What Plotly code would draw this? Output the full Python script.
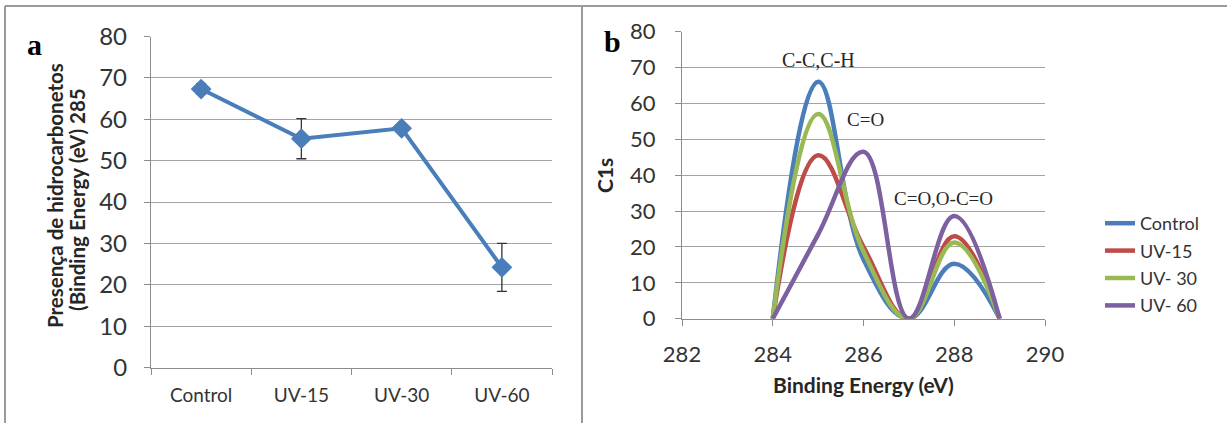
import plotly.graph_objects as go

W, H = 1227, 423

# ---- data: panel a ----
categories = ["Control", "UV-15", "UV-30", "UV-60"]
hydrocarbons = [67.3, 55.3, 57.8, 24.2]
hydro_err = [1.3, 4.85, 1.0, 5.8]

# ---- data: panel b ----
energy = [284, 285, 286, 287, 288, 289]
c1s_control = [0, 66, 16.5, 0, 15.3, 0]
c1s_uv15 = [0, 45.5, 20, 0, 23, 0]
c1s_uv30 = [0, 57, 18.7, 0, 21.2, 0]
c1s_uv60 = [0, 23.5, 46.5, 0, 28.6, 0]
series_names = ["Control", "UV-15", "UV- 30", "UV- 60"]
series_colors = ["#4a7ebb", "#be4b48", "#98b954", "#7d60a0"]
y_ticks = [0, 10, 20, 30, 40, 50, 60, 70, 80]
x_ticks_b = [282, 284, 286, 288, 290]

SANS = "Lato, 'Open Sans', sans-serif"
SERIF = "'Liberation Serif', 'DejaVu Serif', serif"
GRID = "#a3a3a3"
AXIS = "#8c8c8c"

def px(x):
    return x / W

def py(y):
    return 1 - y / H

fig = go.Figure()

fig.add_trace(go.Scatter(
    x=categories, y=hydrocarbons, mode="lines+markers",
    line=dict(color="#4a7ebb", width=4),
    marker=dict(symbol="diamond", size=16, color="#4a7ebb"),
    error_y=dict(type="data", array=hydro_err, visible=True,
                 color="#333333", thickness=1.3, width=5),
    xaxis="x", yaxis="y", showlegend=False,
))

for name, vals, col in zip(series_names,
                           [c1s_control, c1s_uv15, c1s_uv30, c1s_uv60],
                           series_colors):
    fig.add_trace(go.Scatter(
        x=energy, y=vals, mode="lines", name=name,
        line=dict(color=col, width=4.5, shape="spline", smoothing=1.15),
        xaxis="x2", yaxis="y2", legendgroup=name,
    ))

common_axis = dict(showline=True, linecolor=AXIS, linewidth=1.3,
                   ticks="outside", tickcolor=AXIS, ticklen=6, tickwidth=1.3,
                   zeroline=False, automargin=False)

fig.update_layout(
    width=W, height=H,
    margin=dict(l=0, r=0, t=0, b=0),
    paper_bgcolor="white", plot_bgcolor="white",
    font=dict(family=SANS, color="#262626"),
    xaxis=dict(domain=[px(151), px(552)], anchor="y", type="category",
               range=[-0.5, 3.5], tickson="boundaries", showgrid=False,
               tickfont=dict(size=19, family=SANS, color="#333333"),
               ticklabelstandoff=11, **common_axis),
    yaxis=dict(domain=[py(367.5), py(36.5)], anchor="x", range=[0, 80],
               tickvals=y_ticks, showgrid=True, gridcolor=GRID, gridwidth=1.3,
               tickfont=dict(size=24, family=SANS, color="#333333"),
               ticklabelstandoff=12, **common_axis),
    xaxis2=dict(domain=[px(682), px(1045)], anchor="y2", range=[282, 290],
                tickvals=x_ticks_b, showgrid=False,
                tickfont=dict(size=22, family=SANS, color="#333333"),
                ticklabelstandoff=10, **common_axis),
    yaxis2=dict(domain=[py(318.7), py(31.5)], anchor="x2", range=[0, 80],
                tickvals=y_ticks, showgrid=True, gridcolor=GRID, gridwidth=1.3,
                tickfont=dict(size=22, family=SANS, color="#333333"),
                ticklabelstandoff=15, **common_axis),
    legend=dict(x=px(1100), y=py(205), xanchor="left", yanchor="top",
                font=dict(size=18, family=SANS, color="#333333"),
                tracegroupgap=1, bgcolor="rgba(0,0,0,0)"),
    showlegend=True,
)

annotations = [
    dict(text="<b>a</b>", x=px(34), y=py(44), font=dict(size=30, family=SERIF, color="black")),
    dict(text="<b>b</b>", x=px(612), y=py(41), font=dict(size=30, family=SERIF, color="black")),
    dict(text="<b>Presença de hidrocarbonetos</b>",
         x=px(55), y=py(196), textangle=-90,
         font=dict(size=20.5, family=SANS, color="#262626")),
    dict(text="<b>(Binding Energy (eV) 285</b>",
         x=px(77), y=py(200), textangle=-90,
         font=dict(size=20.5, family=SANS, color="#262626")),
    dict(text="<b>C1s</b>", x=px(605), y=py(176), textangle=-90,
         font=dict(size=21, family=SANS, color="#262626")),
    dict(text="<b>Binding Energy (eV)</b>", x=px(863), y=py(384),
         font=dict(size=21, family=SANS, color="#262626")),
    dict(text="C-C,C-H", x=px(818), y=py(60), font=dict(size=20, family=SERIF, color="#262626")),
    dict(text="C=O", x=px(865), y=py(120), font=dict(size=19, family=SERIF, color="#262626")),
    dict(text="C=O,O-C=O", x=px(943), y=py(198), font=dict(size=19, family=SERIF, color="#262626")),
]
for a in annotations:
    a.update(xref="paper", yref="paper", showarrow=False, xanchor="center", yanchor="middle")
fig.update_layout(annotations=annotations)

border = dict(color="#9a9a9a", width=2)
fig.update_layout(shapes=[
    dict(type="line", xref="paper", yref="paper", x0=px(5), x1=1, y0=py(6), y1=py(6), line=border),
    dict(type="line", xref="paper", yref="paper", x0=px(5), x1=px(5), y0=py(6), y1=0, line=border),
    dict(type="line", xref="paper", yref="paper", x0=px(582), x1=px(582), y0=py(6), y1=0, line=border),
])

fig.write_html("out.html", config={"displayModeBar": False},
               post_script="document.body.style.margin='0';document.body.style.overflow='hidden';")
